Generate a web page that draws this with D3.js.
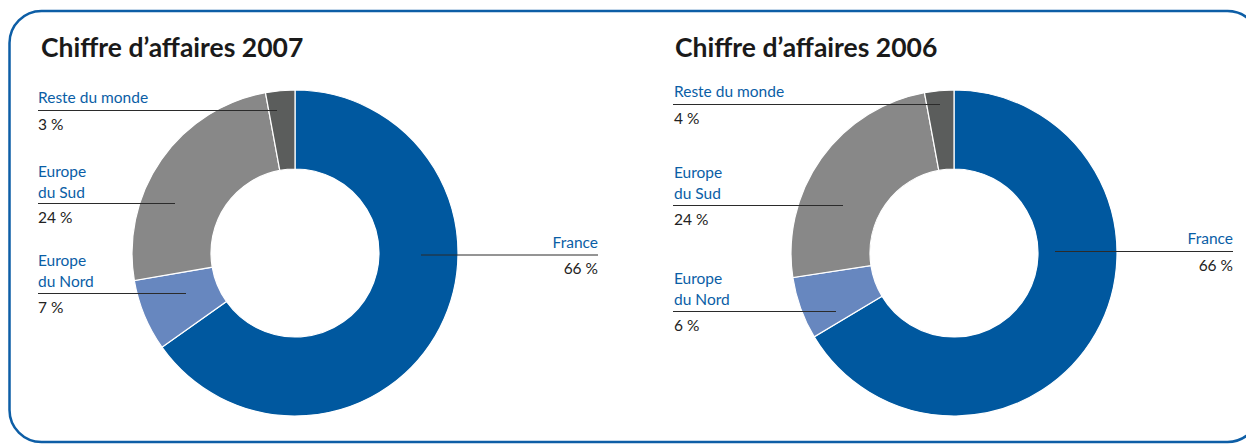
<!DOCTYPE html>
<html>
<head>
<meta charset="utf-8">
<script src="https://cdn.jsdelivr.net/npm/d3@7"></script>
<style>
  html, body { margin: 0; padding: 0; background: #fff; }
  svg { display: block; }
</style>
</head>
<body>
<svg id="chart"></svg>
<script>
// Chiffre d'affaires donuts, 2007 vs 2006
const regions = ["France", "Europe du Nord", "Europe du Sud", "Reste du monde"];
// slice shares as measured on the drawing
const shares2007 = [65.2, 7.1, 24.8, 2.9];
const shares2006 = [66.4, 6.2, 24.5, 2.9];
// percentages printed in the labels
const labels2007 = [66, 7, 24, 3];
const labels2006 = [66, 6, 24, 4];
const titles = ["Chiffre d\u2019affaires 2007", "Chiffre d\u2019affaires 2006"];

const colors = ["#00589f", "#6787bf", "#888888", "#5b5d5c"];

const width = 1246, height = 444;
const svg = d3.select("#chart").attr("width", width).attr("height", height);

// rounded frame
svg.append("rect")
    .attr("x", 9.5).attr("y", 11)
    .attr("width", 1250).attr("height", 431)
    .attr("rx", 32).attr("ry", 32)
    .attr("fill", "none")
    .attr("stroke", "#0d5ea6")
    .attr("stroke-width", 2.5);

const color = d3.scaleOrdinal().domain(regions).range(colors);

const pie = d3.pie().sort(null).value(d => d.value);
const arc = d3.arc().innerRadius(84).outerRadius(163);

// label layout for each panel
const panels = [
    {
        title: titles[0], shares: shares2007, pct: labels2007, cx: 295, cy: 253, titleX: 41,
        labels: [
            { lines: ["France"], y: 248, lineY: 255, x1: 421, x2: 598, anchor: "end", tx: 598 },
            { lines: ["Europe", "du Nord"], y: 266, lineY: 293.5, x1: 38, x2: 186, anchor: "start", tx: 38 },
            { lines: ["Europe", "du Sud"], y: 177, lineY: 203.5, x1: 38, x2: 175, anchor: "start", tx: 38 },
            { lines: ["Reste du monde"], y: 103, lineY: 110.5, x1: 38, x2: 277, anchor: "start", tx: 38 }
        ]
    },
    {
        title: titles[1], shares: shares2006, pct: labels2006, cx: 954, cy: 253, titleX: 675,
        labels: [
            { lines: ["France"], y: 244, lineY: 251.5, x1: 1055, x2: 1233, anchor: "end", tx: 1233 },
            { lines: ["Europe", "du Nord"], y: 284, lineY: 311.5, x1: 673, x2: 836, anchor: "start", tx: 674 },
            { lines: ["Europe", "du Sud"], y: 178, lineY: 205.5, x1: 673, x2: 843, anchor: "start", tx: 674 },
            { lines: ["Reste du monde"], y: 97, lineY: 104.5, x1: 673, x2: 940, anchor: "start", tx: 674 }
        ]
    }
];

const font = "Lato, 'Open Sans', sans-serif";

panels.forEach(p => {
    const g = svg.append("g");

    g.append("text")
        .attr("x", p.titleX).attr("y", 57)
        .attr("font-family", font)
        .attr("font-weight", 700)
        .attr("font-size", 26.5)
        .attr("fill", "#1a1a1a")
        .text(p.title);

    const data = regions.map((r, i) => ({ region: r, value: p.shares[i] }));

    g.append("g")
        .attr("transform", `translate(${p.cx},${p.cy})`)
        .selectAll("path")
        .data(pie(data))
        .join("path")
        .attr("d", arc)
        .attr("fill", d => color(d.data.region))
        .attr("stroke", "#fff")
        .attr("stroke-width", 1.2);

    p.labels.forEach((lab, i) => {
        const lg = g.append("g");
        lab.lines.forEach((t, j) => {
            lg.append("text")
                .attr("x", lab.tx).attr("y", lab.y + j * 21)
                .attr("text-anchor", lab.anchor)
                .attr("font-family", font)
                .attr("font-size", 15.5)
                .attr("fill", "#0a5ea6")
                .text(t);
        });
        lg.append("line")
            .attr("x1", lab.x1).attr("x2", lab.x2)
            .attr("y1", lab.lineY).attr("y2", lab.lineY)
            .attr("stroke", "#2b2b2b")
            .attr("stroke-width", 1);
        lg.append("text")
            .attr("x", lab.tx).attr("y", lab.lineY + 19)
            .attr("text-anchor", lab.anchor)
            .attr("font-family", font)
            .attr("font-size", 15.5)
            .attr("fill", "#222")
            .text(`${p.pct[i]} %`);
    });
});
</script>
</body>
</html>
